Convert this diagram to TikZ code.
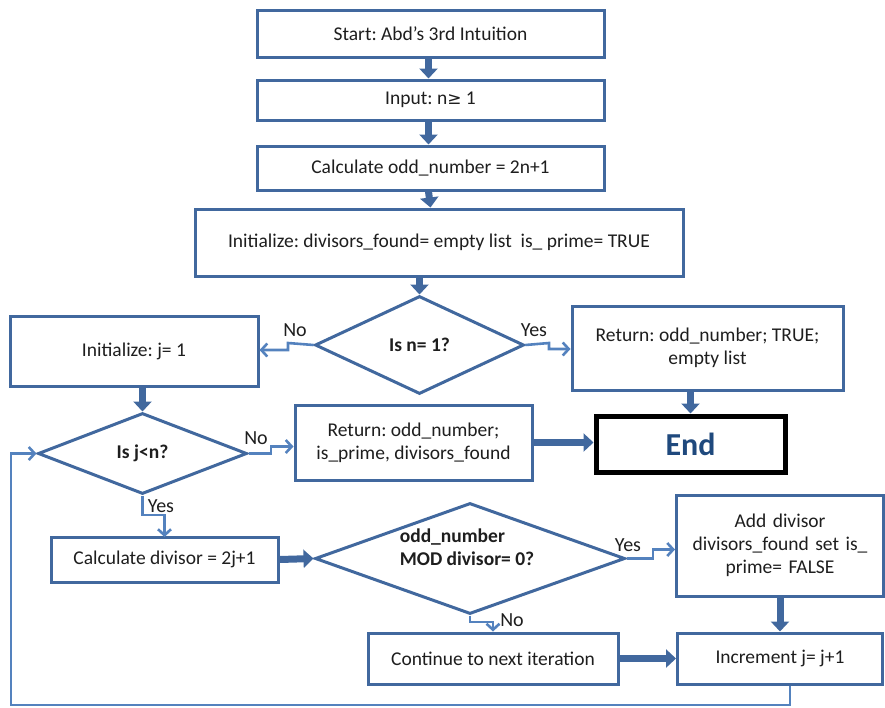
\documentclass[tikz,border=0pt]{standalone}
\usepackage{fontspec}
\setmainfont{Carlito}
\usetikzlibrary{arrows.meta,shapes.geometric}
\definecolor{bline}{RGB}{65,104,158}
\definecolor{tline}{RGB}{84,130,190}
\definecolor{txt}{RGB}{30,30,30}
\definecolor{endblue}{RGB}{31,73,125}
\frenchspacing
\begin{document}
\begin{tikzpicture}[x=1pt,y=-1pt,
  box/.style={draw=bline,line width=3pt,fill=white,rectangle,inner sep=2pt,align=center,text=txt,font=\fontsize{19.5}{23}\selectfont},
  dia/.style={draw=bline,line width=3pt,fill=white,diamond,inner sep=0pt,align=center,text=txt,font=\fontsize{19.5}{23}\selectfont\bfseries},
  fat/.style={draw=bline,line width=7pt,-{Triangle[width=18pt,length=10pt]}},
  thin/.style={draw=tline,line width=2.6pt,-{Straight Barb[length=6pt,width=13pt]}},
  lbl/.style={text=txt,font=\fontsize{20}{23}\selectfont,inner sep=1pt}]
\useasboundingbox (0,0) rectangle (885,707);
\node[box,minimum width=347,minimum height=47] (start) at (430.5,33.5) {Start: Abd's 3rd Intuition};
\node[box,minimum width=347,minimum height=40] (input) at (430.5,100) {Input: n{\fontspec{DejaVu Sans}\fontsize{17}{20}\selectfont ≥} 1};
\node[box,minimum width=347,minimum height=44] (calc) at (430.5,168) {Calculate odd\_number = 2n+1};
\node[box,minimum width=488,minimum height=67] (init) at (439,242.5) {Initialize: divisors\_found= empty list\ \ is\_ prime= TRUE};
\node[dia,minimum width=209,minimum height=98] (isn) at (419.5,345) {Is n= 1?};
\node[box,minimum width=248,minimum height=70] (initj) at (134,351) {Initialize: j= 1};
\node[box,minimum width=271,minimum height=84] (rettrue) at (707.5,348) {Return: odd\_number; TRUE;\\empty list};
\node[draw=black,line width=5pt,fill=white,minimum width=189,minimum height=56,text=endblue,font=\fontsize{32}{36}\selectfont\bfseries] (endn) at (690.5,444) {End};
\node[dia,minimum width=209,minimum height=81] (isj) at (142.5,453.5) {Is j<n?};
\node[box,minimum width=237,minimum height=75] (ret) at (413.5,442.5) {Return: odd\_number;\\is\_prime, divisors\_found};
\node[box,minimum width=227,minimum height=45] (calcd) at (164.5,559.5) {Calculate divisor = 2j+1};
\node[dia,minimum width=310,minimum height=111] (mod) at (470,558.5) {};
\node[text=txt,font=\fontsize{19.5}{23}\selectfont\bfseries,align=left,inner sep=0pt] (modt) at (467,547) {odd\_number\\MOD divisor= 0?};
\node[box,minimum width=207,minimum height=101,text width=190pt] (add) at (780,545.5) {Add divisor\\divisors\_found set is\_\\prime= FALSE};
\node[box,minimum width=250,minimum height=51] (cont) at (493,658.5) {Continue to next iteration};
\node[box,minimum width=205,minimum height=51] (incr) at (780,658.5) {Increment j= j+1};
% thick arrows
\draw[fat] ([xshift=-2pt]start.south) -- ([xshift=-2pt]input.north);
\draw[fat] ([xshift=-2pt]input.south) -- ([xshift=-2pt]calc.north);
\draw[fat] ([xshift=-2pt]calc.south) -- (calc.south|-init.north);
\draw[fat] (init.south-|isn.north) -- (isn.north);
\draw[fat] (initj.south-|isj.north) -- (isj.north);
\draw[fat] (rettrue.south-|endn.north) -- (endn.north);
\draw[fat] (ret.east) -- (ret.east-|endn.west);
\draw[fat] (calcd.east) -- (mod.west);
\draw[fat] (cont.east) -- (incr.west);
\draw[fat] (add.south) -- (incr.north);
% thin elbow arrows
\coordinate (n1) at (288,343);
\draw[thin] (isn.west) -- (n1) -- ++(0,7) -- (initj.east|-{0,350});
\node[lbl] (no1) at (295,330) {No};
\coordinate (y1) at (549,343);
\draw[thin] (isn.east) -- (y1) -- ++(0,6) -- (rettrue.west|-{0,349});
\node[lbl] (yes1) at (534,330) {Yes};
\coordinate (n2) at (271,453.5);
\draw[thin] (isj.east) -- (n2) -- ++(0,-7) -- (ret.west|-{0,446.5});
\node[lbl] (no2) at (256,438) {No};
\coordinate (y2) at (142.5,515);
\draw[thin] (isj.south) -- (y2) -- ++(22,0) -- ++(0,22);
\node[lbl] (yes2) at (161,506) {Yes};
\coordinate (y3) at (653,558.5);
\draw[thin] (mod.east) -- (y3) -- ++(0,-9) -- (add.west|-{0,549.5});
\node[lbl] (yes3) at (628,545) {Yes};
\coordinate (n3) at (470,622);
\draw[thin] (mod.south) -- (n3) -- ++(23,0) -- (cont.north-|{493,0});
\node[lbl] (no3) at (512,620) {No};
% loop back
\coordinate (l1) at (790,705);
\coordinate (l2) at (11,705);
\coordinate (l3) at (11,453.5);
\draw[thin] (incr.south-|l1) -- (l1) -- (l2) -- (l3) -- (isj.west);
\end{tikzpicture}
\end{document}
